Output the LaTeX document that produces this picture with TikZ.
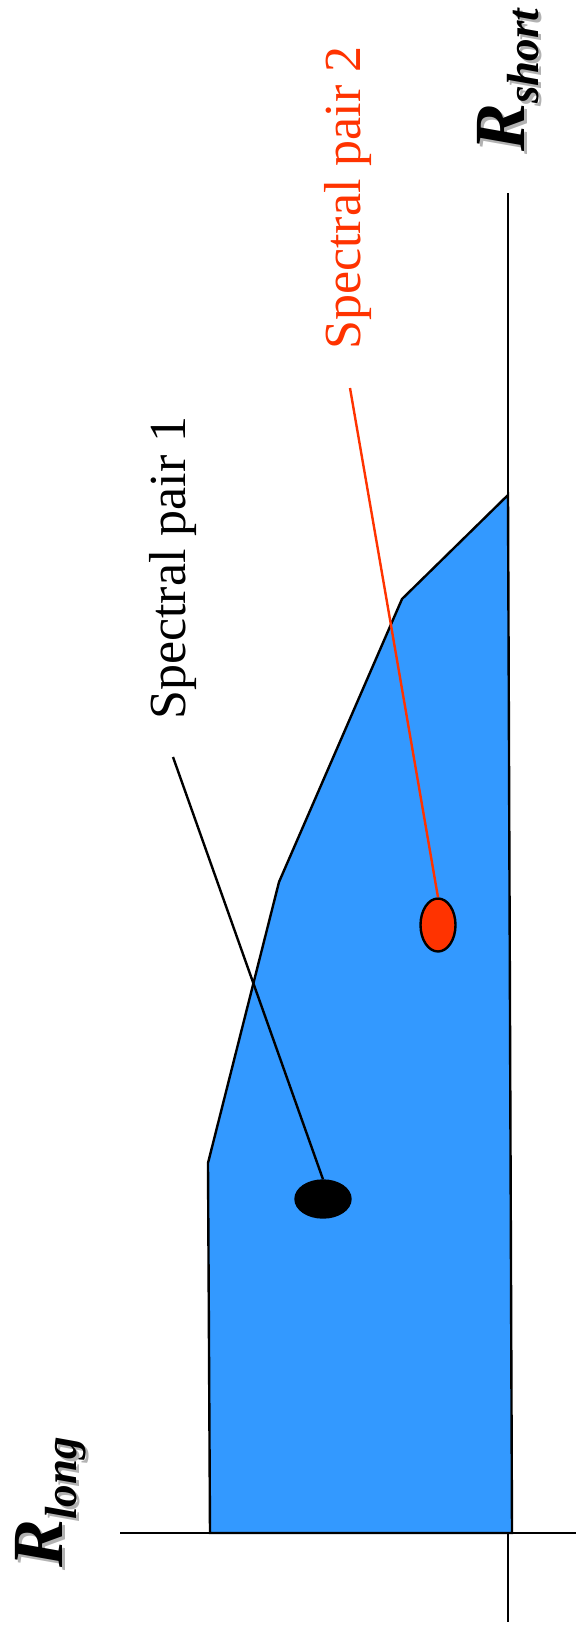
\documentclass[tikz,border=0pt]{standalone}
\usepackage{fontspec}
\setmainfont{Liberation Serif}
\usetikzlibrary{shapes.geometric}
\definecolor{regionblue}{RGB}{51,153,255}
\definecolor{pairred}{RGB}{255,51,0}

\newcommand{\axisname}[2]{{\fontsize{72}{72}\selectfont\bfseries\itshape #1}\raisebox{-14pt}{\fontsize{45}{45}\selectfont\bfseries\itshape #2}}

\begin{document}
\begin{tikzpicture}[x=1pt,y=-1pt,
    ln/.style={line width=2.4pt},
    spot/.style={ellipse,draw=black,line width=2.4pt,inner sep=0pt},
    lbl/.style={rotate=90,anchor=base west,inner sep=0pt,font=\fontsize{52}{52}\selectfont},
    axlbl/.style={rotate=90,anchor=base west,inner sep=0pt}]
  \useasboundingbox (0,0) rectangle (576,1634);
  % axes
  \draw[ln] (120,1533) -- (576,1533);
  \draw[ln] (508,193) -- (508,1622);
  % allowed region
  \filldraw[ln,fill=regionblue] (210,1533) -- (208,1163) -- (279,882) -- (402,599) -- (508,495) -- (512,1533) -- cycle;
  % spectral pairs
  \node[spot,fill=black,minimum width=55pt,minimum height=37pt] (pairone) at (323,1199) {};
  \node[spot,fill=pairred,minimum width=35pt,minimum height=53pt] (pairtwo) at (438,925) {};
  \coordinate (tipone) at (173,757);
  \coordinate (tiptwo) at (350,388);
  \draw[ln] (pairone.north) -- (tipone);
  \draw[ln,pairred] (pairtwo.north) -- (tiptwo);
  \node[lbl] (labone) at (185,720) {Spectral pair 1};
  \node[lbl,pairred] (labtwo) at (360,350) {Spectral pair 2};
  % axis names with shadow
  \node[axlbl,gray!60] (rlongshade) at (65,1571) {\axisname{R}{long}};
  \node[axlbl] (rlong) at (62,1568) {\axisname{R}{long}};
  \node[axlbl,gray!60] (rshortshade) at (527,155) {\axisname{R}{short}};
  \node[axlbl] (rshort) at (524,152) {\axisname{R}{short}};
\end{tikzpicture}
\end{document}
